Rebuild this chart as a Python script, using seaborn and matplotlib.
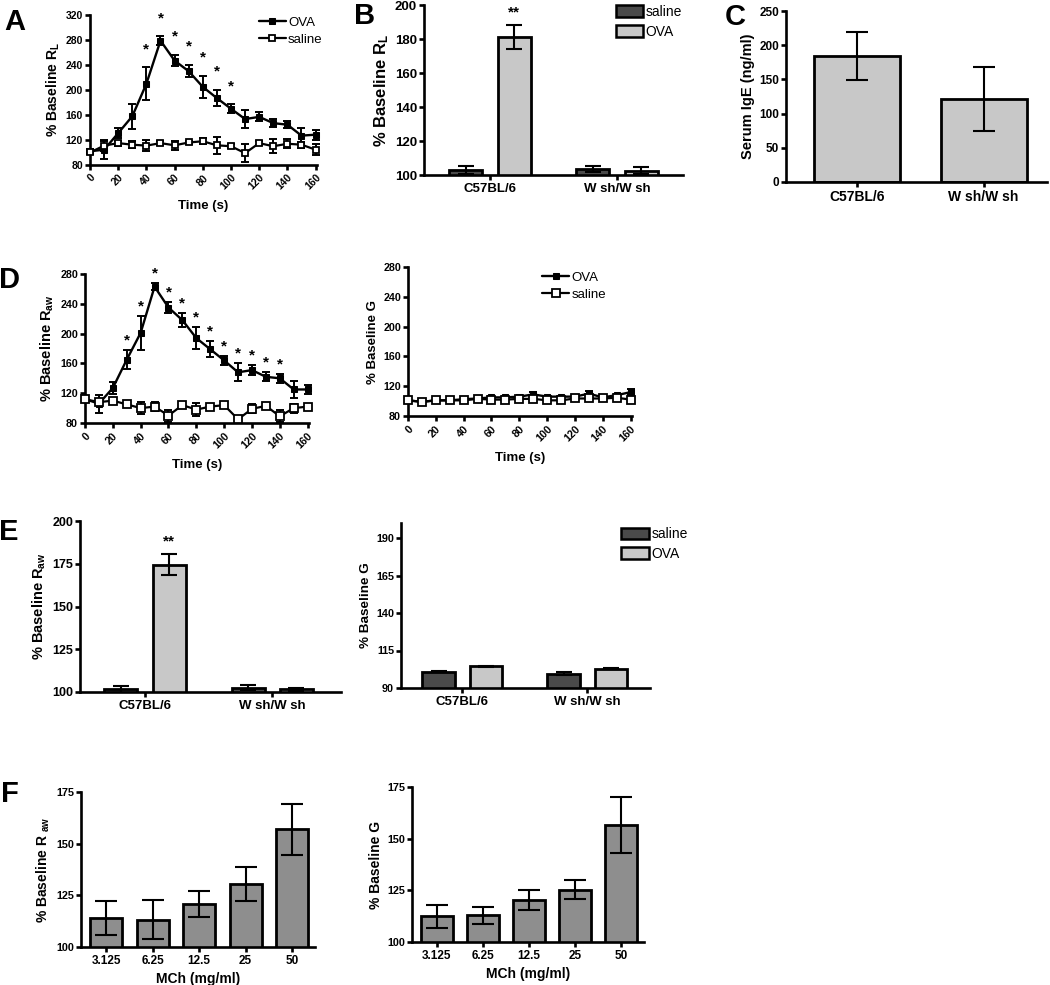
import numpy as np
import pandas as pd
import matplotlib
matplotlib.use("Agg")
import matplotlib.pyplot as plt
import seaborn as sns

# ---------------- data ----------------
TIME = [0, 10, 20, 30, 40, 50, 60, 70, 80, 90, 100, 110, 120, 130, 140, 150, 160]
TIME_TICKS = [0, 20, 40, 60, 80, 100, 120, 140, 160]

A_OVA = [102, 104.5, 131, 158, 210, 279, 247, 230, 205, 187, 170, 153.5, 157, 147, 144.5, 127, 128.5]
A_OVA_ERR = [3, 15, 8, 20, 26, 7, 9, 10, 18, 13, 7, 14, 7, 6, 6, 12, 8]
A_SAL = [100, 111, 115, 112.5, 111, 115, 111.5, 116, 118, 111.5, 110, 99, 115, 110, 114, 112.5, 104.5]
A_SAL_ERR = [2, 8, 4, 6, 9, 3, 7, 3, 5, 14, 3, 15, 3, 11, 7, 5, 9]
A_STARS = [40, 50, 60, 70, 80, 90, 100]

D_OVA = [112, 106, 127, 165, 201, 263, 235, 218, 194, 179, 164, 148, 151, 142, 140, 125, 125]
D_OVA_ERR = [3, 12, 8, 13, 23, 5, 7, 9, 15, 11, 6, 12, 7, 6, 6, 11, 6]
D_SAL = [112, 108, 110, 105, 100, 102, 90, 104, 98, 102, 104, 85, 99, 103, 89, 100, 102]
D_SAL_ERR = [2, 4, 2, 2, 8, 6, 8, 4, 9, 2, 2, 2, 6, 4, 8, 6, 2]
D_STARS = [30, 40, 50, 60, 70, 80, 90, 100, 110, 120, 130, 140]

G_OVA = [101, 99, 101, 101, 102.5, 103.5, 105, 105, 106, 109, 106, 106, 106, 110, 105, 108, 112]
G_OVA_ERR = [1, 1, 1, 1, 1, 1, 1.5, 1.5, 1.5, 3, 1.5, 1.5, 1.5, 4, 1.5, 2, 4]
G_SAL = [101, 99, 101, 101, 101, 103, 102, 102, 103, 103, 101, 101, 103.5, 103.5, 103.5, 104.5, 102]
G_SAL_ERR = [1, 1, 1, 1, 1, 1, 1, 1, 1, 1, 1, 1, 1, 1, 1, 1, 4]

STRAINS = ["C57BL/6", "W sh/W sh"]
GROUPS = ["saline", "OVA"]

B_SAL = [103, 103.5]
B_SAL_ERR = [2.5, 2]
B_OVA = [181, 102.5]
B_OVA_ERR = [7, 2]

C_IGE = [184, 121]
C_IGE_ERR = [35, 47]

E_RAW_SAL = [101.5, 102.5]
E_RAW_SAL_ERR = [2, 1.5]
E_RAW_OVA = [174.5, 101.5]
E_RAW_OVA_ERR = [6, 1]

E_G_SAL = [101, 99.5]
E_G_SAL_ERR = [0.3, 1]
E_G_OVA = [104.5, 103]
E_G_OVA_ERR = [0.5, 0.3]

DOSES = ["3.125", "6.25", "12.5", "25", "50"]
F_RAW = [114.2, 113.2, 121, 130.4, 156.9]
F_RAW_ERR = [8.3, 9.5, 6.3, 8.1, 12.5]
F_G = [112.4, 112.9, 120.5, 125.3, 156.5]
F_G_ERR = [5.6, 4, 4.8, 4.7, 13.6]

# ---------------- style ----------------
sns.set_theme(style="ticks")
plt.rcParams["font.family"] = ["Liberation Sans", "DejaVu Sans"]
plt.rcParams.update({
    "font.weight": "bold",
    "axes.labelweight": "bold",
    "axes.linewidth": 1.9,
    "xtick.major.width": 1.9,
    "ytick.major.width": 1.9,
    "xtick.major.size": 3.5,
    "ytick.major.size": 3.5,
    "xtick.major.pad": 2,
    "ytick.major.pad": 1.5,
    "xtick.color": "black",
    "ytick.color": "black",
    "xtick.labelcolor": "black",
    "ytick.labelcolor": "black",
    "text.color": "black",
    "axes.labelcolor": "black",
    "axes.edgecolor": "black",
    "mathtext.fontset": "custom",
    "mathtext.rm": "Liberation Sans:bold",
    "mathtext.bf": "Liberation Sans:bold",
    "mathtext.it": "Liberation Sans:bold",
})

DARK = "#4a4a4a"
LIGHT = "#c8c8c8"
MID = "#8e8e8e"

W, H = 1050, 985
fig = plt.figure(figsize=(W / 100, H / 100), dpi=100)


def axes_px(x0, y0, x1, y1):
    return fig.add_axes([x0 / W, 1 - y1 / H, (x1 - x0) / W, (y1 - y0) / H])


def style_axes(ax, tick_fs=7.5):
    sns.despine(ax=ax)
    ax.tick_params(axis="both", labelsize=tick_fs, direction="out", colors="black")
    for lab in ax.get_xticklabels() + ax.get_yticklabels():
        lab.set_fontweight("bold")


def time_panel(ax, ova, ova_err, sal, sal_err, ylim, yticks, ylabel, stars=None, star_off=10,
               legend_anchor=None, ms=4.5, ms_filled=4.0, ylab_fs=10.5, tick_fs=7.5):
    ax.errorbar(TIME, ova, yerr=ova_err, fmt="none", ecolor="black", elinewidth=1.4,
                capsize=3, capthick=1.4, clip_on=False, zorder=2)
    ax.errorbar(TIME, sal, yerr=sal_err, fmt="none", ecolor="black", elinewidth=1.4,
                capsize=3, capthick=1.4, clip_on=False, zorder=2)
    sns.lineplot(x=TIME, y=ova, ax=ax, color="black", marker="s", markersize=ms_filled,
                 markeredgecolor="black", markerfacecolor="black", linewidth=1.7,
                 label="OVA", errorbar=None, clip_on=False, zorder=3)
    sns.lineplot(x=TIME, y=sal, ax=ax, color="black", marker="s", markersize=ms,
                 markeredgecolor="black", markerfacecolor="white", markeredgewidth=1.3,
                 linewidth=1.6, label="saline", errorbar=None, clip_on=False, zorder=4)
    ax.set_xlim(0, 161)
    ax.set_ylim(*ylim)
    ax.set_yticks(yticks)
    ax.set_xticks(TIME_TICKS)
    style_axes(ax, tick_fs)
    plt.setp(ax.get_xticklabels(), rotation=45, ha="right", rotation_mode="anchor")
    ax.set_xlabel("Time (s)", fontsize=9.5, fontweight="bold", labelpad=6)
    ax.set_ylabel(ylabel, fontsize=ylab_fs, fontweight="bold", labelpad=3)
    if stars:
        for t in stars:
            i = TIME.index(t)
            ax.annotate("*", xy=(t, ova[i] + ova_err[i]), xytext=(0, star_off),
                        textcoords="offset points", ha="center", va="center",
                        fontsize=11, fontweight="bold")
    leg = ax.get_legend()
    if leg is not None:
        leg.remove()
    if legend_anchor is not None:
        h, l = ax.get_legend_handles_labels()
        lg = ax.legend(h, l, loc="upper left", bbox_to_anchor=legend_anchor, frameon=False,
                       fontsize=9.5, handlelength=2.0, handletextpad=0.2, labelspacing=0.35,
                       borderaxespad=0, borderpad=0)
        for t in lg.get_texts():
            t.set_fontweight("normal")


def group_bar_panel(ax, sal, sal_err, ova, ova_err, ylim, yticks, ylabel, xlim,
                    star_text=None, star_off=9, legend_anchor=None, tick_fs=9, ylab_fs=11,
                    cat_fs=9.5):
    df = pd.DataFrame({
        "strain": STRAINS * 2,
        "group": [GROUPS[0]] * 2 + [GROUPS[1]] * 2,
        "value": sal + ova,
    })
    sns.barplot(data=df, x="strain", y="value", hue="group", hue_order=GROUPS, order=STRAINS,
                palette={"saline": DARK, "OVA": LIGHT}, width=0.76, gap=0.32, saturation=1,
                edgecolor="black", linewidth=2, errorbar=None, ax=ax)
    errs = {"saline": (sal, sal_err), "OVA": (ova, ova_err)}
    for cont, g in zip(ax.containers, GROUPS):
        vals, es = errs[g]
        xs = [p.get_x() + p.get_width() / 2 for p in cont.patches]
        ax.errorbar(xs, vals, yerr=es, fmt="none", ecolor="black", elinewidth=1.5,
                    capsize=6, capthick=1.5, zorder=5)
        if star_text and g == "OVA":
            ax.annotate(star_text, xy=(xs[0], vals[0] + es[0]), xytext=(0, star_off),
                        textcoords="offset points", ha="center", va="center",
                        fontsize=11, fontweight="bold")
    ax.set_xlim(*xlim)
    ax.set_ylim(*ylim)
    ax.set_yticks(yticks)
    ax.set_xlabel("")
    ax.set_ylabel(ylabel, fontsize=ylab_fs, fontweight="bold", labelpad=3)
    style_axes(ax, tick_fs)
    ax.tick_params(axis="x", labelsize=cat_fs)
    leg = ax.get_legend()
    if leg is not None:
        leg.remove()
    if legend_anchor is not None:
        h, l = ax.get_legend_handles_labels()
        lg = ax.legend(h, l, loc="upper left", bbox_to_anchor=legend_anchor, frameon=False,
                       fontsize=10, handlelength=2.0, handleheight=0.9, handletextpad=0.15,
                       labelspacing=0.4, borderaxespad=0, borderpad=0)
        for t in lg.get_texts():
            t.set_fontweight("normal")
        for p in lg.get_patches():
            p.set_linewidth(1.8)


def single_bar_panel(ax, cats, vals, errs, color, width, ylim, yticks, ylabel, xlim, xlabel=None,
                     tick_fs=7.5, cat_fs=8.5, ylab_fs=10.5):
    sns.barplot(x=cats, y=vals, order=cats, color=color, width=width, saturation=1,
                edgecolor="black", linewidth=2, errorbar=None, ax=ax)
    xs = [p.get_x() + p.get_width() / 2 for p in ax.containers[0].patches]
    ax.errorbar(xs, vals, yerr=errs, fmt="none", ecolor="black", elinewidth=1.5,
                capsize=8, capthick=1.5, zorder=5)
    ax.set_xlim(*xlim)
    ax.set_ylim(*ylim)
    ax.set_yticks(yticks)
    ax.set_ylabel(ylabel, fontsize=ylab_fs, fontweight="bold", labelpad=3)
    if xlabel:
        ax.set_xlabel(xlabel, fontsize=10, fontweight="bold", labelpad=4)
    else:
        ax.set_xlabel("")
    style_axes(ax, tick_fs)
    ax.tick_params(axis="x", labelsize=cat_fs)


# ---------------- panel A ----------------
axA = axes_px(90, 15, 317, 165)
time_panel(axA, A_OVA, A_OVA_ERR, A_SAL, A_SAL_ERR, (80, 320), [80, 120, 160, 200, 240, 280, 320],
           "% Baseline R$_{L}$", stars=A_STARS, star_off=13, legend_anchor=(0.745, 0.99),
           ms=4.5, ms_filled=4.0, ylab_fs=10)

# ---------------- panel B ----------------
axB = axes_px(424, 5, 683, 175)
group_bar_panel(axB, B_SAL, B_SAL_ERR, B_OVA, B_OVA_ERR, (100, 200), [100, 120, 140, 160, 180, 200],
                "% Baseline R$_{L}$", (-0.52, 1.52), star_text="**", star_off=9,
                legend_anchor=(0.74, 1.0), tick_fs=9.5, ylab_fs=12, cat_fs=9.5)

# ---------------- panel C ----------------
axC = axes_px(786, 11, 1047, 182)
single_bar_panel(axC, STRAINS, C_IGE, C_IGE_ERR, LIGHT, 0.68, (0, 250), [0, 50, 100, 150, 200, 250],
                 "Serum IgE (ng/ml)", (-0.56, 1.5), tick_fs=8.5, cat_fs=10, ylab_fs=10.5)

# ---------------- panel D ----------------
axD1 = axes_px(85, 274, 309, 423)
time_panel(axD1, D_OVA, D_OVA_ERR, D_SAL, D_SAL_ERR, (80, 280), [80, 120, 160, 200, 240, 280],
           "% Baseline R$_{aw}$", stars=D_STARS, star_off=7, ms=6, ms_filled=4.3,
           ylab_fs=10.5, tick_fs=7.7)
axD2 = axes_px(408, 267, 632, 416)
time_panel(axD2, G_OVA, G_OVA_ERR, G_SAL, G_SAL_ERR, (80, 280), [80, 120, 160, 200, 240, 280],
           "% Baseline G", legend_anchor=(0.6, 0.97), ms=5.5, ms_filled=4.5,
           ylab_fs=9.5, tick_fs=7.7)

# ---------------- panel E ----------------
axE1 = axes_px(80, 521, 341, 692)
group_bar_panel(axE1, E_RAW_SAL, E_RAW_SAL_ERR, E_RAW_OVA, E_RAW_OVA_ERR, (100, 200),
                [100, 125, 150, 175, 200], "% Baseline R$_{aw}$", (-0.51, 1.54),
                star_text="**", star_off=9, tick_fs=9, ylab_fs=10.5, cat_fs=9.5)
axE2 = axes_px(401, 523, 650, 688)
group_bar_panel(axE2, E_G_SAL, E_G_SAL_ERR, E_G_OVA, E_G_OVA_ERR, (90, 200),
                [90, 115, 140, 165, 190], "% Baseline G", (-0.49, 1.5),
                legend_anchor=(0.885, 0.975), tick_fs=7.8, ylab_fs=9.7, cat_fs=9.5)

# ---------------- panel F ----------------
axF1 = axes_px(81, 792, 315, 947)
single_bar_panel(axF1, DOSES, F_RAW, F_RAW_ERR, MID, 0.69, (100, 175), [100, 125, 150, 175],
                 "% Baseline R $_{aw}$", (-0.54, 4.49), xlabel="MCh (mg/ml)", tick_fs=7.8,
                 cat_fs=8.5, ylab_fs=10)
axF2 = axes_px(412, 787, 644, 942)
single_bar_panel(axF2, DOSES, F_G, F_G_ERR, MID, 0.69, (100, 175), [100, 125, 150, 175],
                 "% Baseline G", (-0.54, 4.49), xlabel="MCh (mg/ml)", tick_fs=7.8,
                 cat_fs=8.5, ylab_fs=10)

# ---------------- panel letters ----------------
for letter, (x, y) in {"A": (4, 8), "B": (354, 2), "C": (725, 3), "D": (-1, 266),
                       "E": (-1, 518), "F": (1, 780)}.items():
    fig.text(x / W, 1 - y / H, letter, fontsize=21, fontweight="bold", ha="left", va="top",
             color="black", family=["Liberation Sans", "DejaVu Sans"])

fig.savefig("out.png", dpi=100)
